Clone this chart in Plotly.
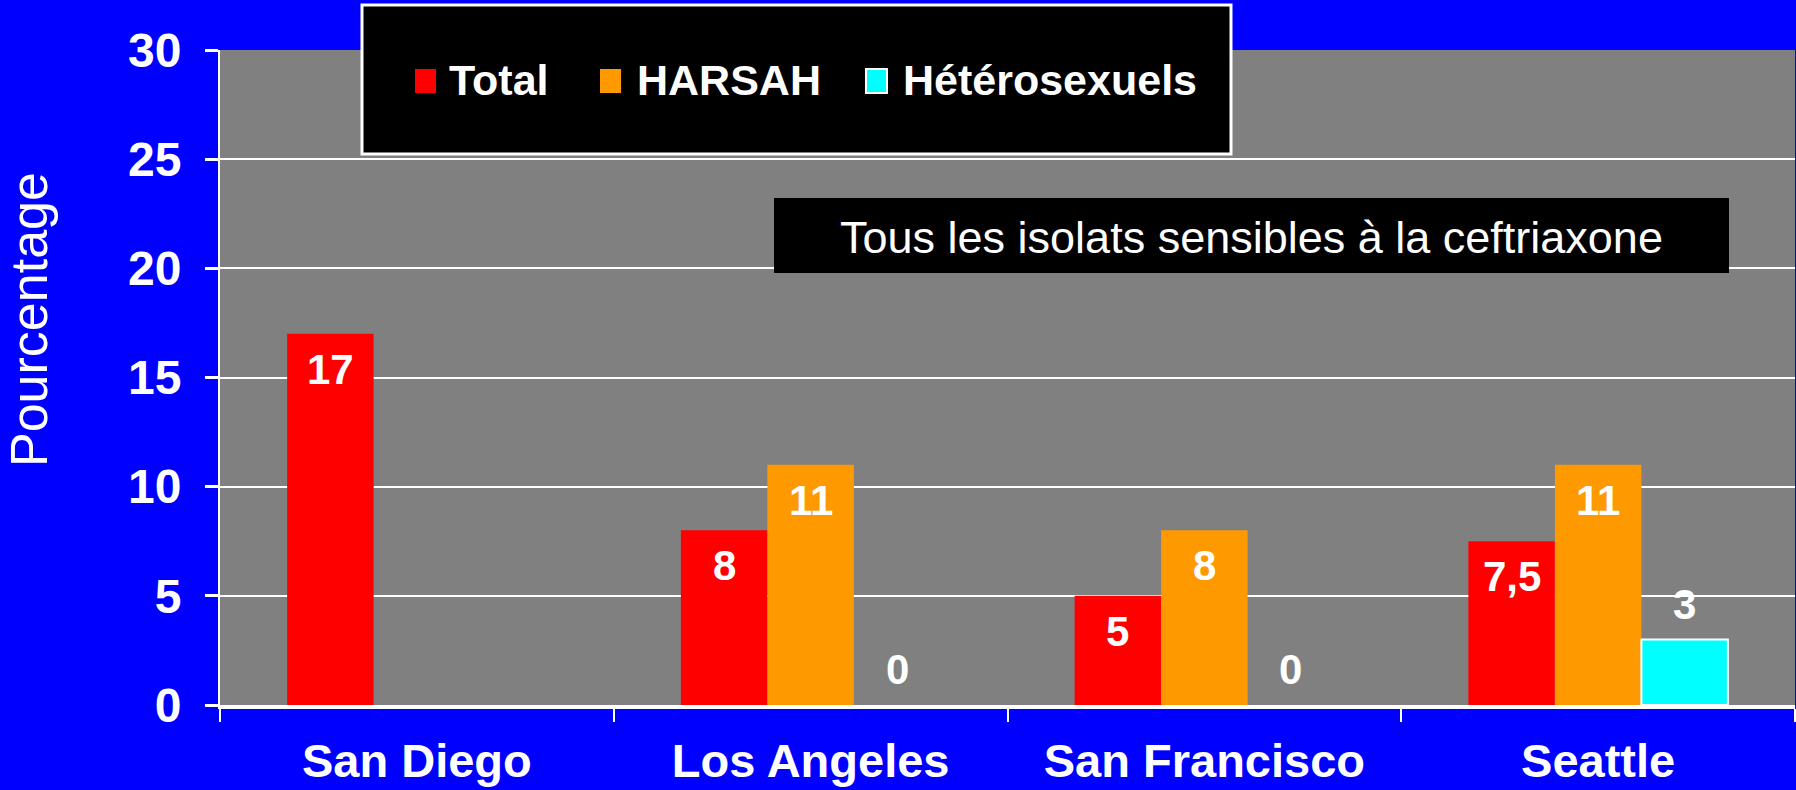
import plotly.graph_objects as go

# ---- data ----
categories = ["San Diego", "Los Angeles", "San Francisco", "Seattle"]
series_names = ["Total", "HARSAH", "Hétérosexuels"]
total = [17, 8, 5, 7.5]
harsah = [None, 11, 8, 11]
hetero = [None, 0, 0, 3]
y_ticks = [0, 5, 10, 15, 20, 25, 30]
y_title = "Pourcentage"
note_text = "Tous les isolats sensibles à la ceftriaxone"

series_values = [total, harsah, hetero]
colors = ["#FF0000", "#FF9900", "#00FFFF"]
outline = [None, None, "white"]

# ---- layout geometry ----
W, H = 1796, 790
L, R, T, B = 220, 1, 50, 85
PW, PH = W - L - R, H - T - B
BARGAP = 0.341
FONT = "Liberation Sans, Arial, sans-serif"


def px(x):
    return (x - L) / PW


def py(y):
    return (H - B - y) / PH


fig = go.Figure()
for name, vals, col, oc in zip(series_names, series_values, colors, outline):
    line_w = [2 if (oc and v) else 0 for v in vals]
    fig.add_trace(go.Bar(
        x=categories, y=vals, name=name,
        marker=dict(color=col, line=dict(color=oc or col, width=line_w)),
        showlegend=False,
    ))

annotations = []
shapes = []

# value labels
n = len(series_names)
bw = (1 - BARGAP) / n
for k, vals in enumerate(series_values):
    for i, v in enumerate(vals):
        if v is None:
            continue
        label = f"{v:g}".replace(".", ",")
        inside = v >= 5
        annotations.append(dict(
            x=i + (k - (n - 1) / 2) * bw, y=v, xref="x", yref="y",
            text=label, showarrow=False,
            xanchor="center", yanchor="top" if inside else "bottom",
            yshift=-10 if inside else 10,
            font=dict(family=FONT, size=42, color="white", weight="bold"),
        ))

# manual legend box
shapes.append(dict(type="rect", xref="paper", yref="paper",
                   x0=px(362), x1=px(1231), y0=py(154), y1=py(5),
                   fillcolor="black", line=dict(color="white", width=3), layer="above"))
marker_left = [415, 600, 866]
text_left = [447, 635, 901]
for k, name in enumerate(series_names):
    shapes.append(dict(type="rect", xref="paper", yref="paper",
                       x0=px(marker_left[k]), x1=px(marker_left[k] + 21),
                       y0=py(93), y1=py(69),
                       fillcolor=colors[k],
                       line=dict(color=outline[k] or colors[k], width=2 if outline[k] else 0),
                       layer="above"))
    annotations.append(dict(x=px(text_left[k]), y=py(80), xref="paper", yref="paper",
                            text=name, showarrow=False, xanchor="left", yanchor="middle",
                            font=dict(family=FONT, size=43, color="white", weight="bold")))

# note box
shapes.append(dict(type="rect", xref="paper", yref="paper",
                   x0=px(774), x1=px(1729), y0=py(273), y1=py(198),
                   fillcolor="black", line=dict(width=0), layer="above"))
annotations.append(dict(x=px(1251.5), y=py(237), xref="paper", yref="paper",
                        text=note_text, showarrow=False, xanchor="center", yanchor="middle",
                        font=dict(family=FONT, size=45, color="white")))

# y-axis title
annotations.append(dict(x=px(29), y=py(320), xref="paper", yref="paper",
                        text=y_title, showarrow=False, textangle=-90,
                        xanchor="center", yanchor="middle",
                        font=dict(family=FONT, size=52, color="white")))

fig.update_layout(
    width=W, height=H,
    margin=dict(l=L, r=R, t=T, b=B, pad=0),
    paper_bgcolor="#0000FF", plot_bgcolor="#808080",
    barmode="group", bargap=BARGAP, bargroupgap=0,
    shapes=shapes, annotations=annotations,
    showlegend=False,
    xaxis=dict(type="category", range=[-0.5, 3.5], tickson="boundaries",
               ticks="outside", ticklen=13, tickwidth=2, tickcolor="white",
               showline=True, linecolor="white", linewidth=4,
               showgrid=False, ticklabelstandoff=12,
               tickfont=dict(family=FONT, size=47, color="white", weight="bold")),
    yaxis=dict(range=[0, 30], tickvals=y_ticks, ticks="outside", ticklen=13,
               tickwidth=3, tickcolor="white", showline=True, linecolor="white",
               linewidth=2, showgrid=True, gridcolor="white", gridwidth=2,
               zeroline=False, ticklabelstandoff=14,
               tickfont=dict(family=FONT, size=48, color="white", weight="bold")),
)

fig.write_html("out.html",
               config={"displayModeBar": False, "staticPlot": True},
               post_script="document.body.style.margin='0';document.body.style.overflow='hidden';")
